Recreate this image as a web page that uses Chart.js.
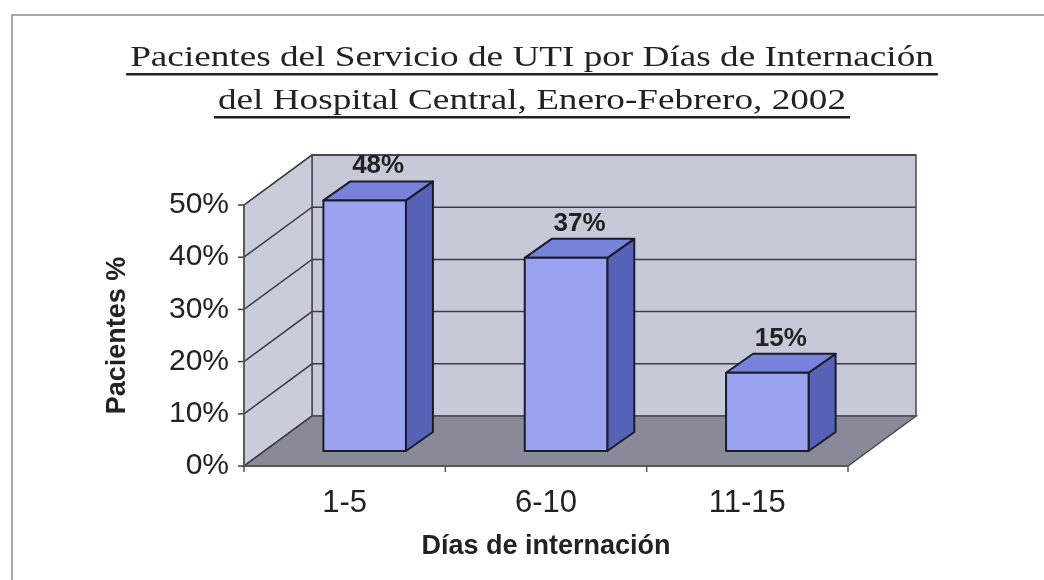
<!DOCTYPE html>
<html>
<head>
<meta charset="utf-8">
<script src="https://cdn.jsdelivr.net/npm/chart.js@4"></script>
<style>
  html, body { margin: 0; padding: 0; background: #fff; }
</style>
</head>
<body>
<canvas id="chart" width="1044" height="580"></canvas>
<script>
// data
const categories = ["1-5", "6-10", "11-15"];
const patientPct = [48, 37, 15];
const yTicks = [0, 10, 20, 30, 40, 50];
const titleLines = [
    "Pacientes del Servicio de UTI por Días de Internación",
    "del Hospital Central, Enero-Febrero, 2002"
];

// 3D look (Excel style box)
const depth = { dx: 68, dy: -50 };     // back wall offset
const barShift = { dx: 20, dy: -15 };  // bars stand inside the box
const barDepth = { dx: 27, dy: -19 };

const sans = '"Liberation Sans", Arial, sans-serif';

// walls, floor and grid lines behind the bars
const box3d = {
    id: "box3d",
    beforeDatasetsDraw(chart) {
        const { ctx, chartArea: a, scales: { y } } = chart;
        const L = a.left, R = a.right;
        const T = y.getPixelForValue(yTicks[yTicks.length - 1]);
        const B = y.getPixelForValue(0);
        const dx = depth.dx, dy = depth.dy;

        ctx.save();
        ctx.lineWidth = 1.5;
        ctx.strokeStyle = "#4a4a55";

        // back wall
        ctx.fillStyle = "#c6cad8";
        ctx.beginPath();
        ctx.rect(L + dx, T + dy, R - L, B - T);
        ctx.fill();
        ctx.stroke();

        // left side wall
        ctx.fillStyle = "#c9ccd9";
        ctx.beginPath();
        ctx.moveTo(L, T);
        ctx.lineTo(L + dx, T + dy);
        ctx.lineTo(L + dx, B + dy);
        ctx.lineTo(L, B);
        ctx.closePath();
        ctx.fill();
        ctx.stroke();

        // floor
        ctx.fillStyle = "#888b97";
        ctx.beginPath();
        ctx.moveTo(L, B);
        ctx.lineTo(R, B);
        ctx.lineTo(R + dx, B + dy);
        ctx.lineTo(L + dx, B + dy);
        ctx.closePath();
        ctx.fill();
        ctx.stroke();

        // grid lines
        ctx.strokeStyle = "#3d3d48";
        ctx.lineWidth = 1.5;
        yTicks.forEach(v => {
            const py = y.getPixelForValue(v);
            ctx.beginPath();
            ctx.moveTo(L, py);
            ctx.lineTo(L + dx, py + dy);
            if (v > 0) ctx.lineTo(R + dx, py + dy);
            ctx.stroke();
            // tick mark
            ctx.beginPath();
            ctx.moveTo(L - 6, py);
            ctx.lineTo(L, py);
            ctx.stroke();
        });

        // front axis lines
        ctx.strokeStyle = "#555";
        ctx.beginPath();
        ctx.moveTo(L, T);
        ctx.lineTo(L, B);
        ctx.lineTo(R, B);
        ctx.stroke();
        const step = (R - L) / categories.length;
        for (let i = 0; i <= categories.length; i++) {
            ctx.beginPath();
            ctx.moveTo(L + i * step, B);
            ctx.lineTo(L + i * step, B + 6);
            ctx.stroke();
        }
        ctx.restore();
    },
    afterDatasetsDraw(chart) {
        const { ctx } = chart;
        const meta = chart.getDatasetMeta(0);
        ctx.save();
        ctx.lineWidth = 2;
        ctx.strokeStyle = "#1b1b2c";
        ctx.lineJoin = "round";
        meta.data.forEach((bar, i) => {
            const p = bar.getProps(["x", "y", "base", "width"], true);
            const x0 = p.x - p.width / 2 + barShift.dx;
            const x1 = p.x + p.width / 2 + barShift.dx;
            const yt = p.y + barShift.dy;
            const yb = p.base + barShift.dy;
            const bx = barDepth.dx, by = barDepth.dy;

            // side
            ctx.fillStyle = "#5662b6";
            ctx.beginPath();
            ctx.moveTo(x1, yt);
            ctx.lineTo(x1 + bx, yt + by);
            ctx.lineTo(x1 + bx, yb + by);
            ctx.lineTo(x1, yb);
            ctx.closePath();
            ctx.fill();
            ctx.stroke();

            // top
            ctx.fillStyle = "#7783da";
            ctx.beginPath();
            ctx.moveTo(x0, yt);
            ctx.lineTo(x1, yt);
            ctx.lineTo(x1 + bx, yt + by);
            ctx.lineTo(x0 + bx, yt + by);
            ctx.closePath();
            ctx.fill();
            ctx.stroke();

            // front
            ctx.fillStyle = "#99a3ef";
            ctx.fillRect(x0, yt, x1 - x0, yb - yt);
            ctx.strokeRect(x0, yt, x1 - x0, yb - yt);

            // value label
            ctx.fillStyle = "#222";
            ctx.font = "bold 26px " + sans;
            ctx.textAlign = "center";
            ctx.textBaseline = "alphabetic";
            ctx.fillText(patientPct[i] + "%", (x0 + x1 + bx) / 2, yt + by - 8);
        });
        ctx.restore();
    },
    afterDraw(chart) {
        const { ctx } = chart;
        ctx.save();
        // scanned page frame
        ctx.strokeStyle = "#8a8a8a";
        ctx.lineWidth = 1.5;
        ctx.beginPath();
        ctx.moveTo(12, 580);
        ctx.lineTo(12, 15);
        ctx.lineTo(1044, 15);
        ctx.stroke();

        // underlined serif title, a bit wide
        ctx.fillStyle = "#222";
        ctx.font = '30px "Liberation Serif", "Times New Roman", serif';
        ctx.textAlign = "center";
        ctx.textBaseline = "alphabetic";
        const sx = 1.24;
        titleLines.forEach((t, i) => {
            const w = ctx.measureText(t).width * sx;
            const cx = 532, base = 66 + i * 43;
            ctx.save();
            ctx.translate(cx, base);
            ctx.scale(sx, 1);
            ctx.fillText(t, 0, 0);
            ctx.restore();
            ctx.fillRect(cx - w / 2 - 4, base + 7, w + 8, 2.5);
        });
        ctx.restore();
    }
};

new Chart(document.getElementById("chart"), {
    type: "bar",
    data: {
        labels: categories,
        datasets: [{
            label: "Pacientes %",
            data: patientPct,
            backgroundColor: "rgba(0,0,0,0)",
            borderWidth: 0,
            barPercentage: 0.41,
            categoryPercentage: 1
        }]
    },
    options: {
        responsive: false,
        animation: false,
        devicePixelRatio: 1,
        layout: { padding: { left: 100, top: 205, right: 196, bottom: 0 } },
        plugins: {
            legend: { display: false },
            tooltip: { enabled: false }
        },
        scales: {
            x: {
                grid: { display: false },
                border: { display: false },
                ticks: { font: { family: sans, size: 31 }, color: "#222", padding: 11 },
                title: {
                    display: true,
                    text: "Días de internación",
                    font: { family: sans, size: 27, weight: "bold" },
                    color: "#222",
                    padding: { top: 0, bottom: 17 }
                },
                afterFit(scale) { scale.height = 114; }
            },
            y: {
                min: 0,
                max: 50,
                afterBuildTicks(scale) { scale.ticks = yTicks.map(v => ({ value: v })); },
                grid: { display: false, drawTicks: false },
                border: { display: false },
                ticks: {
                    font: { family: sans, size: 30 },
                    color: "#222",
                    padding: 15,
                    callback: v => v + "%"
                },
                title: {
                    display: true,
                    text: "Pacientes %",
                    font: { family: sans, size: 27, weight: "bold" },
                    color: "#222",
                    padding: { top: 1, bottom: 0 }
                },
                afterFit(scale) { scale.width = 144; }
            }
        }
    },
    plugins: [box3d]
});
</script>
</body>
</html>
